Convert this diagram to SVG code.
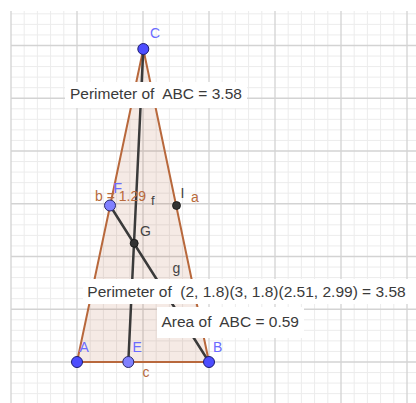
<svg xmlns="http://www.w3.org/2000/svg" width="416" height="403" viewBox="0 0 416 403">
<style>
.minor{stroke:#ececec;stroke-width:1;fill:none}
.major{stroke:#d3d3d3;stroke-width:1.3;fill:none}
.side{stroke:#b8683c;stroke-width:2;fill:none;stroke-linecap:round}
.seg{stroke:#3a3a3a;stroke-width:2.5;fill:none;stroke-linecap:round}
.free{fill:#4d4dff;stroke:#1c1c70;stroke-width:1}
.onpath{fill:#8080ff;stroke:#2a2a6a;stroke-width:1}
.dep{fill:#333;stroke:#111;stroke-width:0.8}
text{font-family:"Liberation Sans",Arial,sans-serif;white-space:pre}
.pl{fill:#6b6bff;font-size:14px}
.dl{fill:#444;font-size:14px}
.ol{fill:#b86a3c;font-size:14px}
.box{fill:#fff}
.bt{fill:#3a3a3a;font-size:15.5px}
</style>
<rect width="416" height="403" fill="#fff"/>
<g id="grid">
<path class="minor" d="M24.2 11V403M37.4 11V403M50.6 11V403M63.8 11V403M90.2 11V403M103.4 11V403M116.6 11V403M129.8 11V403M156.2 11V403M169.4 11V403M182.6 11V403M195.8 11V403M222.2 11V403M235.4 11V403M248.6 11V403M261.8 11V403M288.2 11V403M301.4 11V403M314.6 11V403M327.8 11V403M354.2 11V403M367.4 11V403M380.6 11V403M393.8 11V403"/>
<path class="minor" d="M11 13.85H416M11 24.4H416M11 34.95H416M11 56.05H416M11 66.6H416M11 77.15H416M11 87.7H416M11 108.8H416M11 119.35H416M11 129.9H416M11 140.45H416M11 161.55H416M11 172.1H416M11 182.65H416M11 193.2H416M11 214.3H416M11 224.85H416M11 235.4H416M11 245.95H416M11 267.05H416M11 277.6H416M11 288.15H416M11 298.7H416M11 319.8H416M11 330.35H416M11 340.9H416M11 351.45H416M11 372.55H416M11 383.1H416M11 393.65H416"/>
<path class="major" d="M11 11V403M77 11V403M143 11V403M209 11V403M275 11V403M341 11V403M407 11V403"/>
<path class="major" d="M11 45.5H416M11 98.25H416M11 151H416M11 203.75H416M11 256.5H416M11 309.25H416M11 362H416"/>
</g>
<g id="triangle">
<polygon points="77,362 209,362 143.3,49" fill="rgb(153,51,0)" fill-opacity="0.1" stroke="none"/>
</g>
<g id="connectors">
<line class="side" x1="77" y1="362" x2="209" y2="362"/>
<line class="side" x1="77" y1="362" x2="143.3" y2="49"/>
<line class="side" x1="209" y1="362" x2="143.3" y2="49"/>
<line class="seg" x1="143.3" y1="49" x2="128.3" y2="362"/>
<line class="seg" x1="110" y1="205.5" x2="209" y2="362"/>
</g>
<g id="labels-sides">
<text class="ol" x="95" y="201">b = 1.29</text>
<text class="ol" x="191" y="202">a</text>
<text class="ol" x="142.5" y="377">c</text>
<text class="dl" x="151" y="205" style="font-size:13px">f</text>
<text class="dl" x="172.5" y="273">g</text>
</g>
<g id="node-C"><circle class="free" cx="143.3" cy="49" r="5.5"/><text class="pl" x="150" y="38">C</text></g>
<g id="node-A"><circle class="free" cx="77" cy="362" r="5.5"/><text class="pl" x="79.5" y="352">A</text></g>
<g id="node-B"><circle class="free" cx="209" cy="362" r="5.5"/><text class="pl" x="213" y="352">B</text></g>
<g id="node-E"><circle class="onpath" cx="128.3" cy="362" r="5.5"/><text class="pl" x="132.5" y="352">E</text></g>
<g id="node-F"><circle class="onpath" cx="110" cy="205.5" r="5.5"/><text class="pl" x="113.5" y="193">F</text></g>
<g id="node-I"><circle class="dep" cx="176.5" cy="205.5" r="4"/><text class="dl" x="180.5" y="198">I</text></g>
<g id="node-G"><circle class="dep" cx="134.2" cy="243.3" r="4"/><text class="dl" x="140" y="235.5">G</text></g>
<g id="label-perimeter-abc">
<rect class="box" x="65" y="82" width="182" height="26"/>
<text class="bt" x="70" y="98.5">Perimeter of  ABC = 3.58</text>
</g>
<g id="label-perimeter-coords">
<rect class="box" x="83" y="279" width="333" height="25"/>
<text class="bt" x="87.3" y="296.5">Perimeter of  (2, 1.8)(3, 1.8)(2.51, 2.99) = 3.58</text>
</g>
<g id="label-area">
<rect class="box" x="157" y="307" width="147" height="31"/>
<text class="bt" x="161.5" y="326.5">Area of  ABC = 0.59</text>
</g>
</svg>
